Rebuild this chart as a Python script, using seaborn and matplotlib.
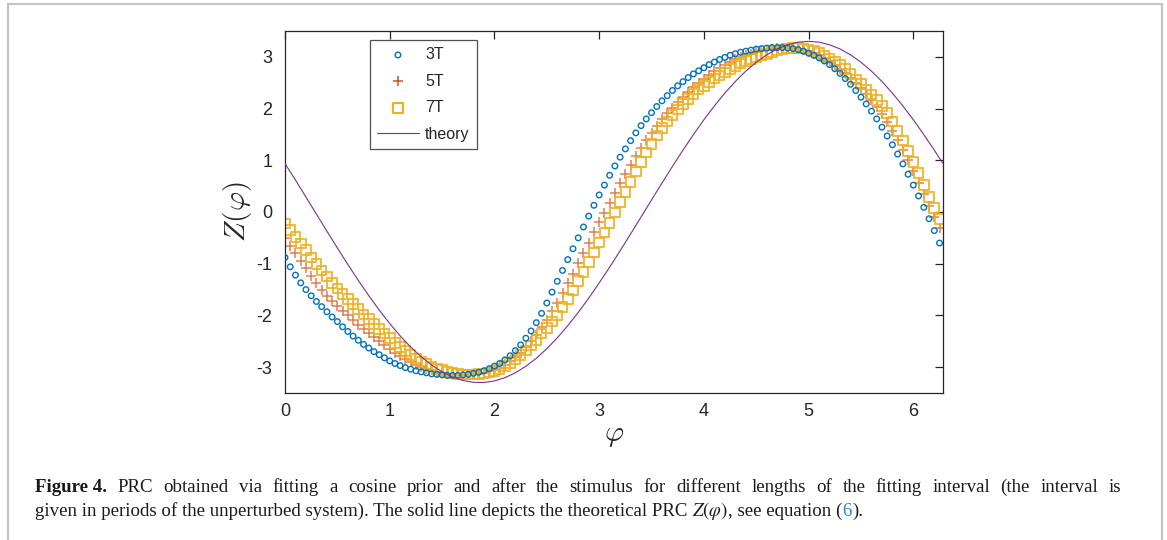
import numpy as np
import pandas as pd
import matplotlib
matplotlib.use("Agg")
import matplotlib.pyplot as plt
import seaborn as sns
from matplotlib.patches import Rectangle

# ---------------- data ----------------
phi = np.round(np.arange(0, 6.26, 0.05), 2)   # sampling grid of the fitted PRCs

z_3T = [-0.88, -1.06, -1.22, -1.37, -1.50, -1.62, -1.73, -1.83, -1.93, -2.03,
        -2.12, -2.22, -2.31, -2.40, -2.48, -2.56, -2.63, -2.70, -2.76, -2.82,
        -2.88, -2.93, -2.97, -3.01, -3.04, -3.07, -3.09, -3.11, -3.13, -3.14,
        -3.15, -3.16, -3.16, -3.16, -3.15, -3.14, -3.12, -3.10, -3.07, -3.03,
        -2.98, -2.93, -2.86, -2.78, -2.68, -2.57, -2.44, -2.30, -2.14, -1.96,
        -1.76, -1.55, -1.34, -1.13, -0.92, -0.71, -0.50, -0.29, -0.08, 0.13,
        0.33, 0.52, 0.71, 0.89, 1.06, 1.22, 1.38, 1.53, 1.67, 1.80,
        1.92, 2.04, 2.15, 2.25, 2.35, 2.44, 2.52, 2.60, 2.67, 2.73,
        2.79, 2.85, 2.90, 2.95, 2.99, 3.03, 3.06, 3.09, 3.11, 3.13,
        3.15, 3.16, 3.17, 3.18, 3.18, 3.18, 3.17, 3.16, 3.14, 3.11,
        3.07, 3.03, 2.98, 2.92, 2.85, 2.77, 2.68, 2.58, 2.47, 2.35,
        2.22, 2.09, 1.95, 1.80, 1.64, 1.47, 1.30, 1.12, 0.93, 0.73,
        0.52, 0.31, 0.09, -0.13, -0.36, -0.60]

z_5T = [-0.50, -0.65, -0.79, -0.94, -1.08, -1.23, -1.37, -1.50, -1.62, -1.72,
        -1.82, -1.91, -2.00, -2.09, -2.18, -2.26, -2.34, -2.42, -2.50, -2.58,
        -2.65, -2.72, -2.78, -2.84, -2.90, -2.95, -2.99, -3.03, -3.06, -3.09,
        -3.11, -3.13, -3.14, -3.15, -3.15, -3.15, -3.14, -3.13, -3.11, -3.08,
        -3.05, -3.01, -2.95, -2.89, -2.81, -2.72, -2.62, -2.50, -2.37, -2.23,
        -2.08, -1.92, -1.75, -1.57, -1.38, -1.19, -0.99, -0.79, -0.59, -0.39,
        -0.20, -0.01, 0.18, 0.37, 0.56, 0.74, 0.91, 1.08, 1.24, 1.39,
        1.53, 1.66, 1.79, 1.91, 2.02, 2.12, 2.22, 2.32, 2.41, 2.50,
        2.58, 2.65, 2.72, 2.79, 2.85, 2.90, 2.95, 2.99, 3.03, 3.06,
        3.09, 3.12, 3.14, 3.16, 3.17, 3.18, 3.18, 3.17, 3.15, 3.13,
        3.11, 3.07, 3.03, 2.98, 2.92, 2.85, 2.77, 2.69, 2.60, 2.50,
        2.40, 2.29, 2.17, 2.04, 1.90, 1.74, 1.57, 1.39, 1.20, 1.00,
        0.79, 0.57, 0.35, 0.12, -0.09, -0.30]

z_7T = [-0.22, -0.35, -0.48, -0.61, -0.74, -0.88, -1.01, -1.13, -1.25, -1.37,
        -1.48, -1.58, -1.68, -1.78, -1.88, -1.98, -2.07, -2.17, -2.26, -2.35,
        -2.44, -2.53, -2.61, -2.69, -2.76, -2.83, -2.89, -2.94, -2.99, -3.03,
        -3.06, -3.09, -3.11, -3.13, -3.14, -3.14, -3.14, -3.13, -3.12, -3.10,
        -3.07, -3.03, -2.98, -2.92, -2.85, -2.77, -2.68, -2.58, -2.47, -2.35,
        -2.24, -2.12, -2.00, -1.84, -1.68, -1.52, -1.34, -1.16, -0.97, -0.78,
        -0.59, -0.40, -0.21, -0.01, 0.19, 0.39, 0.58, 0.78, 0.97, 1.15,
        1.32, 1.48, 1.62, 1.75, 1.87, 1.98, 2.09, 2.19, 2.28, 2.37,
        2.44, 2.51, 2.58, 2.64, 2.70, 2.76, 2.82, 2.87, 2.92, 2.96,
        3.00, 3.03, 3.06, 3.09, 3.12, 3.14, 3.16, 3.17, 3.17, 3.16,
        3.14, 3.11, 3.07, 3.02, 2.97, 2.91, 2.84, 2.76, 2.67, 2.56,
        2.47, 2.37, 2.27, 2.16, 2.05, 1.92, 1.75, 1.57, 1.38, 1.18,
        0.97, 0.75, 0.52, 0.29, 0.08, -0.14]

phi_theory = [0.0, 0.1, 0.2, 0.3, 0.4, 0.5, 0.6, 0.7, 0.8, 0.9,
              1.0, 1.1, 1.2, 1.3, 1.4, 1.5, 1.6, 1.7, 1.8, 1.9,
              2.0, 2.1, 2.2, 2.3, 2.4, 2.5, 2.6, 2.7, 2.8, 2.9,
              3.0, 3.1, 3.2, 3.3, 3.4, 3.5, 3.6, 3.7, 3.8, 3.9,
              4.0, 4.1, 4.2, 4.3, 4.4, 4.5, 4.6, 4.7, 4.8, 4.9,
              5.0, 5.1, 5.2, 5.3, 5.4, 5.5, 5.6, 5.7, 5.8, 5.9,
              6.0, 6.1, 6.2, 6.28]
z_theory = [0.936, 0.618, 0.289, -0.041, -0.370, -0.696, -1.014, -1.323, -1.618, -1.897,
            -2.157, -2.396, -2.610, -2.799, -2.959, -3.090, -3.190, -3.259, -3.294, -3.297,
            -3.267, -3.204, -3.109, -2.983, -2.828, -2.644, -2.433, -2.199, -1.942, -1.666,
            -1.373, -1.067, -0.750, -0.425, -0.096, 0.233, 0.561, 0.883, 1.196, 1.497,
            1.783, 2.051, 2.299, 2.524, 2.724, 2.896, 3.039, 3.153, 3.234, 3.284,
            3.300, 3.284, 3.234, 3.153, 3.039, 2.896, 2.724, 2.524, 2.299, 2.051,
            1.783, 1.497, 1.196, 0.946]

series_labels = ["3T", "5T", "7T", "theory"]
x_ticks = [0, 1, 2, 3, 4, 5, 6]
y_ticks = [-3, -2, -1, 0, 1, 2, 3]

caption_bold = "Figure 4."
caption_line1 = ("PRC obtained via fitting a cosine prior and after the stimulus for different "
                 "lengths of the fitting interval (the interval is")
caption_line2_a = "given in periods of the unperturbed system). The solid line depicts the theoretical PRC "
caption_line2_math = r"$Z(\varphi)$"
caption_line2_b = ", see equation ("
caption_line2_ref = "6"
caption_line2_c = ")."

# ---------------- styling ----------------
sns.set_style("white")
plt.rcParams["font.family"] = ["Liberation Sans", "DejaVu Sans"]

C_BLUE = "#0072BD"
C_RED = "#D95319"
C_YEL = "#EDB120"
C_PUR = "#7E2F8E"
AX_COL = "#262626"

W, H = 1167, 540
fig = plt.figure(figsize=(W / 100, H / 100), dpi=100)
ax = fig.add_axes([285 / W, 1 - 393 / H, (943 - 285) / W, (393 - 31) / H])

df = pd.DataFrame({"phi": phi, "3T": z_3T, "5T": z_5T, "7T": z_7T})
dft = pd.DataFrame({"phi": phi_theory, "Z": z_theory})

sns.scatterplot(data=df, x="phi", y="3T", ax=ax, marker="o", s=16,
                color=C_BLUE, facecolor="none", edgecolor=C_BLUE,
                linewidth=1.0, label=series_labels[0], zorder=3)
sns.scatterplot(data=df, x="phi", y="5T", ax=ax, marker="+", s=60,
                color=C_RED, linewidth=1.1, alpha=0.75,
                label=series_labels[1], zorder=2)
sns.scatterplot(data=df, x="phi", y="7T", ax=ax, marker="s", s=48,
                color=C_YEL, facecolor="none", edgecolor=C_YEL,
                linewidth=1.5, alpha=0.85, label=series_labels[2], zorder=2.5)
sns.lineplot(data=dft, x="phi", y="Z", ax=ax, color=C_PUR, linewidth=0.8,
             label=series_labels[3], zorder=4)

ax.set_xlim(0, 2 * np.pi)
ax.set_ylim(-3.5, 3.5)
ax.set_xticks(x_ticks)
ax.set_yticks(y_ticks)
ax.set_xticklabels([str(t) for t in x_ticks])
ax.set_yticklabels([str(t) for t in y_ticks])
ax.tick_params(direction="in", length=6, width=0.9, colors=AX_COL,
               labelsize=13, top=True, right=True, pad=7)
ax.tick_params(axis="y", pad=9)
for sp in ax.spines.values():
    sp.set_visible(True)
    sp.set_color(AX_COL)
    sp.set_linewidth(0.9)

ax.set_xlabel(r"$\varphi$", fontsize=21, math_fontfamily="cm", color=AX_COL, labelpad=1)
ax.set_ylabel(r"$Z(\varphi)$", fontsize=21, math_fontfamily="cm", color=AX_COL, labelpad=2)

leg = ax.legend(loc="upper left", bbox_to_anchor=((370 - 285) / 658, 1 - (40 - 31) / 362),
                borderaxespad=0, frameon=True, fancybox=False, fontsize=11.5,
                handlelength=2.6, handletextpad=0.4, labelspacing=0.72,
                borderpad=0.45)
leg.get_frame().set_edgecolor(AX_COL)
leg.get_frame().set_linewidth(0.9)
for h in leg.legend_handles:
    try:
        h.set_alpha(1)
    except Exception:
        pass

# ---------------- figure frame ----------------
fig.patches.append(Rectangle((8 / W, -0.05), (1162 - 8) / W, 1.05 - 4 / H,
                             transform=fig.transFigure, fill=False,
                             edgecolor="#c4c4c4", linewidth=1.6))

# ---------------- caption ----------------
serif = ["Liberation Serif", "DejaVu Serif"]
cap_size = 13.6
fig.canvas.draw()
renderer = fig.canvas.get_renderer()


def make(x_px, y_px, s, **kw):
    t = fig.text(x_px / W, 1 - y_px / H, s, va="baseline", ha="left",
                 fontsize=cap_size, family=serif, color="#1a1a1a", **kw)
    return t


def width(t):
    return t.get_window_extent(renderer=renderer).width


# line 1: justified between x=35 and x=1121
words = [caption_bold] + caption_line1.split(" ")
objs = []
for i, wd in enumerate(words):
    t = make(0, 492, wd, weight="bold" if i == 0 else "normal")
    objs.append(t)
widths = [width(t) for t in objs]
gap = (1121 - 35 - sum(widths)) / (len(words) - 1)
x = 35
for t, wdt in zip(objs, widths):
    t.set_x(x / W)
    x += wdt + gap

# line 2: natural spacing
x = 35
for s, kw in [(caption_line2_a, {}), (caption_line2_math, {"math_fontfamily": "stix"}),
              (caption_line2_b, {}), (caption_line2_ref, {"color": "#2a8ac9"}),
              (caption_line2_c, {})]:
    col = kw.pop("color", "#1a1a1a")
    t = make(x, 516, s, **kw)
    t.set_color(col)
    x += width(t)

fig.savefig("out.png", dpi=100)
